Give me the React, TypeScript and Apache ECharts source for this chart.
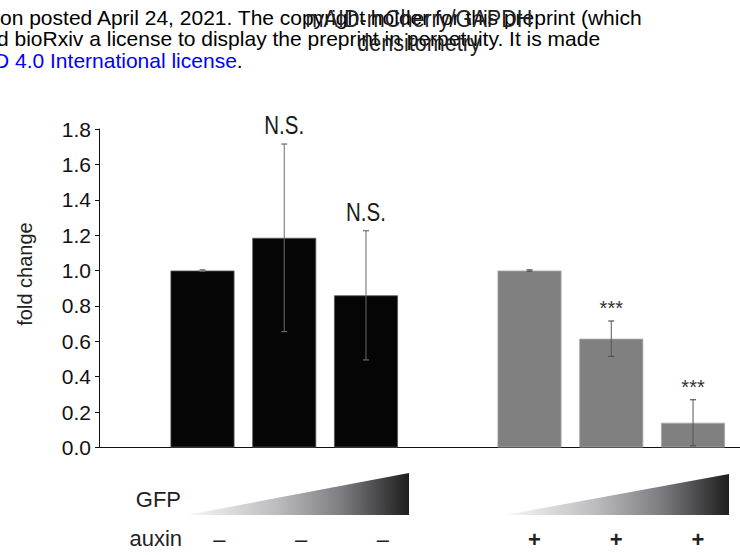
import React, { useEffect, useRef } from 'react';
import * as echarts from 'echarts';

// ---- data ----
const categories = [
  'GFP low, auxin −',
  'GFP mid, auxin −',
  'GFP high, auxin −',
  '',
  'GFP low, auxin +',
  'GFP mid, auxin +',
  'GFP high, auxin +',
];
const foldChange: (number | null)[] = [1.0, 1.185, 0.86, null, 1.0, 0.615, 0.14];
const errorSD: (number | null)[] = [0.004, 0.53, 0.365, null, 0.004, 0.1, 0.13];
const significance = ['', 'N.S.', 'N.S.', '', '', '***', '***'];
const auxinMarks = ['–', '–', '–', '', '+', '+', '+'];
const yMin = 0;
const yMax = 1.8;
const yStep = 0.2;
const titleLines = ['mAID-mCherry/GAPDH', 'densitometry'];
const watermarkLines = [
  'on posted April 24, 2021. The copyright holder for this preprint (which',
  'd bioRxiv a license to display the preprint in perpetuity. It is made',
];
const watermarkLink = 'D 4.0 International license';

const FONT = 'Liberation Sans, Arial, Helvetica, sans-serif';

export default function App() {
  const ref = useRef<HTMLDivElement>(null);
  useEffect(() => {
    if (!ref.current) return;
    const chart = echarts.init(ref.current, null, { renderer: 'svg' });

    const gridTop = 129;
    const gridBottom = 107.5;

    const wedgeFill = () =>
      new echarts.graphic.LinearGradient(0, 0, 1, 0, [
        { offset: 0, color: '#f8f8f8' },
        { offset: 0.4, color: '#bdbdc0' },
        { offset: 0.7, color: '#7c7c80' },
        { offset: 1, color: '#1e1e1e' },
      ]);

    const errData = foldChange
      .map((v, i) => (v == null ? null : [i, v, errorSD[i] as number]))
      .filter((d) => d != null);

    const markData = auxinMarks
      .map((m, i) => (m ? [i, 0] : null))
      .filter((d) => d != null);

    const option: any = {
      animation: false,
      textStyle: { fontFamily: FONT },
      grid: [
        { left: 99, right: 0, top: gridTop, bottom: gridBottom },
        { left: 161.6, right: 6.1, top: gridTop, bottom: gridBottom },
      ],
      xAxis: [
        {
          gridIndex: 0,
          type: 'category',
          data: [''],
          axisLine: { show: true, lineStyle: { color: '#111', width: 1.2 } },
          axisTick: { show: false },
          axisLabel: { show: false },
        },
        {
          gridIndex: 1,
          type: 'category',
          data: categories,
          show: false,
        },
      ],
      yAxis: [
        {
          gridIndex: 0,
          type: 'value',
          min: yMin,
          max: yMax,
          interval: yStep,
          axisLine: { show: true, lineStyle: { color: '#111', width: 1 } },
          axisTick: { show: true, length: 4, lineStyle: { color: '#111' } },
          axisLabel: {
            fontSize: 21,
            color: '#111',
            margin: 8,
            fontFamily: FONT,
            formatter: (v: number) => v.toFixed(1),
          },
          splitLine: { show: false },
        },
        {
          gridIndex: 1,
          type: 'value',
          min: yMin,
          max: yMax,
          interval: yStep,
          show: false,
        },
      ],
      series: [
        {
          type: 'bar',
          xAxisIndex: 1,
          yAxisIndex: 1,
          barWidth: 64,
          data: foldChange.map((v, i) => ({
            value: v,
            itemStyle: {
              color: i < 3 ? '#050505' : '#808080',
              borderColor: i < 3 ? '#5a5a5a' : '#a8a8a8',
              borderWidth: 0.8,
            },
          })),
        },
        {
          type: 'custom',
          xAxisIndex: 1,
          yAxisIndex: 1,
          clip: false,
          z: 5,
          data: errData,
          renderItem: (params: any, api: any) => {
            const idx = api.value(0);
            const mean = api.value(1);
            const err = api.value(2);
            const top = api.coord([idx, mean + err]);
            const bot = api.coord([idx, mean - err]);
            const x = top[0];
            const color = idx < 3 ? '#6a6a6a' : '#555555';
            const cap = 3;
            const children: any[] = [
              { type: 'line', shape: { x1: x, y1: top[1], x2: x, y2: bot[1] }, style: { stroke: color, lineWidth: 1 } },
              { type: 'line', shape: { x1: x - cap, y1: top[1], x2: x + cap, y2: top[1] }, style: { stroke: color, lineWidth: 1.2 } },
              { type: 'line', shape: { x1: x - cap, y1: bot[1], x2: x + cap, y2: bot[1] }, style: { stroke: color, lineWidth: 1.2 } },
            ];
            const s = significance[idx];
            if (s) {
              const isStar = s.startsWith('*');
              children.push({
                type: 'text',
                x,
                y: top[1] - (isStar ? 3 : 6),
                scaleX: isStar ? 1 : 0.82,
                style: {
                  text: s,
                  fontSize: isStar ? 20 : 25,
                  fontFamily: FONT,
                  fill: isStar ? '#333' : '#1a1a1a',
                  align: 'center',
                  verticalAlign: 'bottom',
                },
              });
            }
            return { type: 'group', children };
          },
        },
        {
          type: 'custom',
          xAxisIndex: 1,
          yAxisIndex: 1,
          clip: false,
          data: markData,
          renderItem: (params: any, api: any) => {
            const idx = api.value(0);
            const p = api.coord([idx, 0]);
            const m = auxinMarks[idx];
            const isPlus = m === '+';
            const dx = isPlus ? 5 : 17;
            return {
              type: 'text',
              x: p[0] + dx,
              y: p[1] + 91.5,
              style: {
                text: m,
                fontSize: 22,
                fontWeight: isPlus ? 'bold' : 'normal',
                fontFamily: FONT,
                fill: '#222',
                align: 'center',
                verticalAlign: 'middle',
              },
            };
          },
        },
      ],
      graphic: [
        // watermark text
        {
          type: 'text',
          x: 0,
          y: 17,
          style: { text: watermarkLines[0], fontSize: 21, fontFamily: FONT, fill: '#000', verticalAlign: 'middle' },
        },
        {
          type: 'text',
          x: -3,
          y: 38.5,
          style: { text: watermarkLines[1], fontSize: 21, fontFamily: FONT, fill: '#000', verticalAlign: 'middle' },
        },
        {
          type: 'text',
          x: -6,
          y: 60,
          style: {
            text: '{a|' + watermarkLink + '}{b|.}',
            fontSize: 21,
            fontFamily: FONT,
            verticalAlign: 'middle',
            rich: {
              a: { fontSize: 21, fontFamily: FONT, fill: '#0000ff', color: '#0000ff' },
              b: { fontSize: 21, fontFamily: FONT, fill: '#000', color: '#000' },
            },
          },
        },
        // title
        {
          type: 'text',
          x: 419,
          y: 19,
          scaleX: 0.9,
          style: { text: titleLines[0], fontSize: 24, fontFamily: FONT, fill: '#222', align: 'center', verticalAlign: 'middle' },
        },
        {
          type: 'text',
          x: 419,
          y: 43,
          scaleX: 0.9,
          style: { text: titleLines[1], fontSize: 24, fontFamily: FONT, fill: '#222', align: 'center', verticalAlign: 'middle' },
        },
        // y-axis name
        {
          type: 'text',
          x: 25,
          y: 274,
          rotation: Math.PI / 2,
          style: { text: 'fold change', fontSize: 20, fontFamily: FONT, fill: '#222', align: 'center', verticalAlign: 'middle' },
        },
        // GFP / auxin row labels
        {
          type: 'text',
          x: 181,
          y: 499,
          style: { text: 'GFP', fontSize: 22, fontFamily: FONT, fill: '#222', align: 'right', verticalAlign: 'middle' },
        },
        {
          type: 'text',
          x: 182,
          y: 538,
          style: { text: 'auxin', fontSize: 22, fontFamily: FONT, fill: '#222', align: 'right', verticalAlign: 'middle' },
        },
        // GFP gradient wedges
        {
          type: 'polygon',
          shape: { points: [[187, 515], [409, 473], [409, 515]] },
          style: { fill: wedgeFill() },
        },
        {
          type: 'polygon',
          shape: { points: [[505, 515], [729, 474], [729, 515]] },
          style: { fill: wedgeFill() },
        },
      ],
    };

    chart.setOption(option);
    return () => chart.dispose();
  }, []);

  return (
    <div
      ref={ref}
      style={{ position: 'fixed', left: 0, top: 0, width: 740, height: 555, background: '#fff' }}
    />
  );
}
